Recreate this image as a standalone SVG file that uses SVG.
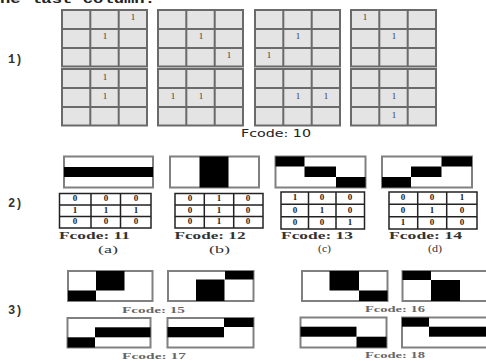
<svg xmlns="http://www.w3.org/2000/svg" width="486" height="361" viewBox="0 0 486 361">
<style>
.bg{fill:#fff}
.cell{fill:#e4e4e4;stroke:#6a6a6a;stroke-width:2}
.gl{stroke:#6a6a6a;stroke-width:2;fill:none}
.d1{font-family:"Liberation Serif",serif;font-size:9px;fill:#333;text-anchor:middle}
.lbl{font-family:"Liberation Mono",monospace;font-weight:bold;font-size:12px;fill:#333}
.fc1{font-family:"DejaVu Sans",sans-serif;font-size:10px;fill:#222}
.bar{fill:#fff;stroke:#808080;stroke-width:2}
.blk{fill:#000}
.tb{fill:#fff;stroke:#222;stroke-width:1.5}
.tl{stroke:#222;stroke-width:1.5;fill:none}
.d2{font-family:"Liberation Serif",serif;font-size:9px;font-weight:bold;fill:#222;text-anchor:middle}
.fc2{font-family:"Liberation Serif",serif;font-size:11px;font-weight:bold;fill:#333}
.cap{font-family:"Liberation Serif",serif;font-size:11px;fill:#333}
.fc3{font-family:"Liberation Serif",serif;font-size:8px;font-weight:bold;fill:#666}
</style>
<defs>
<g id="grid">
<rect class="cell" x="0" y="0" width="85" height="56.5"/>
<path class="gl" d="M28.3,0V56.5M56.7,0V56.5M0,19H85M0,38H85"/>
</g>
</defs>
<rect class="bg" x="0" y="0" width="486" height="361"/>
<text x="0" y="3" font-family="Liberation Mono,monospace" font-weight="bold" font-size="13" fill="#222" textLength="155" lengthAdjust="spacingAndGlyphs">he last column.</text>

<g id="section1">
<text class="lbl" x="8" y="63">1)</text>
<g id="g1"><use href="#grid" x="62" y="10"/><text class="d1" x="133" y="20">1</text><text class="d1" x="105" y="39">1</text></g>
<g id="g2"><use href="#grid" x="158" y="10"/><text class="d1" x="201" y="39">1</text><text class="d1" x="229" y="58">1</text></g>
<g id="g3"><use href="#grid" x="255" y="10"/><text class="d1" x="298" y="39">1</text><text class="d1" x="269" y="58">1</text></g>
<g id="g4"><use href="#grid" x="351" y="10"/><text class="d1" x="365" y="20">1</text><text class="d1" x="394" y="39">1</text></g>
<g id="g5"><use href="#grid" x="62" y="69"/><text class="d1" x="105" y="80">1</text><text class="d1" x="105" y="99">1</text></g>
<g id="g6"><use href="#grid" x="158" y="69"/><text class="d1" x="173" y="99">1</text><text class="d1" x="201" y="99">1</text></g>
<g id="g7"><use href="#grid" x="255" y="69"/><text class="d1" x="298" y="99">1</text><text class="d1" x="326" y="99">1</text></g>
<g id="g8"><use href="#grid" x="351" y="69"/><text class="d1" x="394" y="99">1</text><text class="d1" x="394" y="118">1</text></g>
<text class="fc1" x="241" y="137" textLength="70" lengthAdjust="spacingAndGlyphs">Fcode: 10</text>
</g>

<g id="section2">
<text class="lbl" x="8" y="207">2)</text>
<g id="a">
<rect class="bar" x="64" y="156.5" width="89" height="31"/>
<rect class="blk" x="64" y="167" width="89" height="10"/>
<rect class="tb" x="59.5" y="193.5" width="91.5" height="34.5"/>
<path class="tl" d="M91,193.5V228M120.5,193.5V228M59.5,205H151M59.5,216.5H151"/>
<text class="d2" x="75" y="200.5">0</text><text class="d2" x="106" y="200.5">0</text><text class="d2" x="136" y="200.5">0</text>
<text class="d2" x="75" y="212.5">1</text><text class="d2" x="106" y="212.5">1</text><text class="d2" x="136" y="212.5">1</text>
<text class="d2" x="75" y="224">0</text><text class="d2" x="106" y="224">0</text><text class="d2" x="136" y="224">0</text>
<text class="fc2" x="59" y="238.5" textLength="71" lengthAdjust="spacingAndGlyphs">Fcode: 11</text>
<text class="cap" x="98" y="253" textLength="20" lengthAdjust="spacingAndGlyphs">(a)</text>
</g>
<g id="b">
<rect class="bar" x="170" y="156.5" width="89" height="31"/>
<rect class="blk" x="199.5" y="156.5" width="29" height="31"/>
<rect class="tb" x="175" y="193.5" width="88" height="34.5"/>
<path class="tl" d="M204.3,193.5V228M233.7,193.5V228M175,205H263M175,216.5H263"/>
<text class="d2" x="190" y="200.5">0</text><text class="d2" x="219" y="200.5">1</text><text class="d2" x="248" y="200.5">0</text>
<text class="d2" x="190" y="212.5">0</text><text class="d2" x="219" y="212.5">1</text><text class="d2" x="248" y="212.5">0</text>
<text class="d2" x="190" y="224">0</text><text class="d2" x="219" y="224">1</text><text class="d2" x="248" y="224">0</text>
<text class="fc2" x="174.5" y="238.5" textLength="71" lengthAdjust="spacingAndGlyphs">Fcode: 12</text>
<text class="cap" x="209" y="253" textLength="21" lengthAdjust="spacingAndGlyphs">(b)</text>
</g>
<g id="c">
<rect class="bar" x="275.5" y="156.5" width="90" height="31"/>
<rect class="blk" x="275.5" y="156.5" width="29" height="10"/>
<rect class="blk" x="304.5" y="166.5" width="31.5" height="10.5"/>
<rect class="blk" x="336" y="177" width="29.5" height="10.5"/>
<rect class="tb" x="281" y="192" width="83.5" height="37"/>
<path class="tl" d="M308.5,192V229M336,192V229M281,204.3H364.5M281,216.7H364.5"/>
<text class="d2" x="295" y="200">1</text><text class="d2" x="322" y="200">0</text><text class="d2" x="350" y="200">0</text>
<text class="d2" x="295" y="212.5">0</text><text class="d2" x="322" y="212.5">1</text><text class="d2" x="350" y="212.5">0</text>
<text class="d2" x="295" y="225">0</text><text class="d2" x="322" y="225">0</text><text class="d2" x="350" y="225">1</text>
<text class="fc2" x="281" y="238.5" textLength="72" lengthAdjust="spacingAndGlyphs">Fcode: 13</text>
<text class="cap" x="318" y="252" textLength="13" lengthAdjust="spacingAndGlyphs">(c)</text>
</g>
<g id="d">
<rect class="bar" x="382" y="156.5" width="90" height="31"/>
<rect class="blk" x="382" y="177" width="29" height="10.5"/>
<rect class="blk" x="411" y="166.5" width="30.5" height="10.5"/>
<rect class="blk" x="441.5" y="156.5" width="30.5" height="10"/>
<rect class="tb" x="389" y="192" width="88" height="37"/>
<path class="tl" d="M417.7,192V229M446.7,192V229M389,204.3H477M389,216.7H477"/>
<text class="d2" x="403" y="200">0</text><text class="d2" x="432" y="200">0</text><text class="d2" x="462" y="200">1</text>
<text class="d2" x="403" y="212.5">0</text><text class="d2" x="432" y="212.5">1</text><text class="d2" x="462" y="212.5">0</text>
<text class="d2" x="403" y="225">1</text><text class="d2" x="432" y="225">0</text><text class="d2" x="462" y="225">0</text>
<text class="fc2" x="389" y="238.5" textLength="73" lengthAdjust="spacingAndGlyphs">Fcode: 14</text>
<text class="cap" x="428" y="252" textLength="14" lengthAdjust="spacingAndGlyphs">(d)</text>
</g>
</g>

<g id="section3">
<text class="lbl" x="8" y="314">3)</text>
<g id="f15">
<rect class="bar" x="68" y="271" width="84.5" height="30"/>
<rect class="blk" x="96" y="271" width="28.5" height="19.5"/>
<rect class="blk" x="68" y="290.5" width="28" height="10.5"/>
<rect class="bar" x="168" y="271" width="85.5" height="30"/>
<rect class="blk" x="225" y="271" width="28.5" height="8.5"/>
<rect class="blk" x="196" y="279.5" width="28.5" height="21.5"/>
<text class="fc3" x="122" y="313" textLength="63" lengthAdjust="spacingAndGlyphs">Fcode: 15</text>
</g>
<g id="f16">
<rect class="bar" x="302" y="271" width="85.5" height="30"/>
<rect class="blk" x="329.5" y="271" width="29.5" height="19.5"/>
<rect class="blk" x="359" y="290.5" width="28.5" height="10.5"/>
<rect class="bar" x="402.5" y="271" width="86" height="30"/>
<rect class="blk" x="402.5" y="271" width="28.5" height="9"/>
<rect class="blk" x="431" y="280" width="29" height="21"/>
<text class="fc3" x="365" y="311.5" textLength="60" lengthAdjust="spacingAndGlyphs">Fcode: 16</text>
</g>
<g id="f17">
<rect class="bar" x="67.5" y="318" width="83" height="29.5"/>
<rect class="blk" x="95" y="327.3" width="55.5" height="10"/>
<rect class="blk" x="67.5" y="337.3" width="27.5" height="10.2"/>
<rect class="bar" x="167.5" y="318" width="86" height="29.5"/>
<rect class="blk" x="224" y="318" width="29.5" height="9"/>
<rect class="blk" x="167.5" y="327" width="56.5" height="10.3"/>
<text class="fc3" x="122" y="359" textLength="64" lengthAdjust="spacingAndGlyphs">Fcode: 17</text>
</g>
<g id="f18">
<rect class="bar" x="300.5" y="317.5" width="86" height="30"/>
<rect class="blk" x="300.5" y="326.7" width="56" height="10"/>
<rect class="blk" x="356.5" y="336.7" width="30" height="10.8"/>
<rect class="bar" x="402" y="317.5" width="86.5" height="30"/>
<rect class="blk" x="402" y="317.5" width="27" height="9.2"/>
<rect class="blk" x="429" y="326.7" width="59.5" height="10"/>
<text class="fc3" x="365" y="358" textLength="60" lengthAdjust="spacingAndGlyphs">Fcode: 18</text>
</g>
</g>
</svg>
